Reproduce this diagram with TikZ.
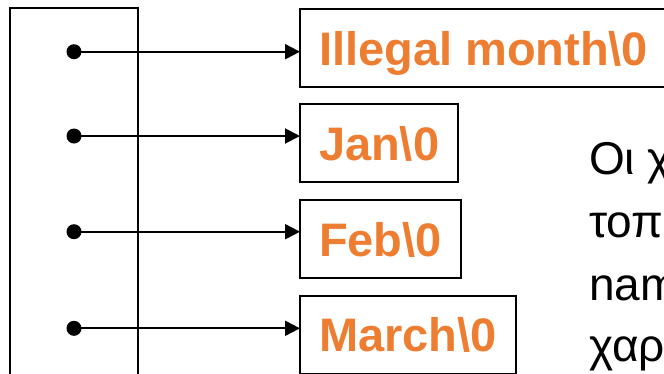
\documentclass[tikz,border=0pt]{standalone}
\usepackage{fontspec}
\setmainfont{Liberation Sans}
\usetikzlibrary{arrows.meta}
\definecolor{monthorange}{RGB}{237,125,49}
\begin{document}
\begin{tikzpicture}[x=1pt,y=-1pt,
  frame/.style={draw=black,line width=2pt},
  dot/.style={circle,fill=black,minimum size=15pt,inner sep=0pt,outer sep=0pt},
  strbox/.style={draw=black,line width=2pt,anchor=north west,minimum height=78pt,
    inner xsep=19pt,inner ysep=0pt,outer sep=0pt,text height=34pt,text depth=0pt,
    font=\fontsize{47}{56}\selectfont\bfseries,text=monthorange},
  ptr/.style={line width=2pt,-{Triangle[length=15pt,width=15pt]}},
  note/.style={anchor=base west,inner sep=0pt,font=\fontsize{46}{55}\selectfont}]
\useasboundingbox (0,0) rectangle (664,373);
\clip (0,0) rectangle (664,373);
% array of pointers
\node[frame,rectangle,anchor=north west,minimum width=127.7pt,minimum height=400pt,inner sep=0pt,outer sep=0pt] (arr) at (10,8.3) {};
% dots
\node[dot] (d1) at (74,51.7) {};
\node[dot] (d2) at (74,136) {};
\node[dot] (d3) at (74,231.7) {};
\node[dot] (d4) at (74,328.3) {};
% strings
\node[strbox] (b1) at (300,9.3) {Illegal month\textbackslash 0};
\node[strbox] (b2) at (300,104.3) {Jan\textbackslash 0};
\node[strbox] (b3) at (300,200) {Feb\textbackslash 0};
\node[strbox] (b4) at (300,295.7) {March\textbackslash 0};
% pointers
\draw[ptr] (d1.center) -- (d1 -| b1.west);
\draw[ptr] (d2.center) -- (d2 -| b2.west);
\draw[ptr] (d3.center) -- (d3 -| b3.west);
\draw[ptr] (d4.center) -- (d4 -| b4.west);
% side text (cut by the picture's edge)
\node[note] (t1) at (589,174) {Οι χ};
\node[note] (t2) at (589,237) {τοπ};
\node[note] (t3) at (589,300) {nam};
\node[note] (t4) at (589,361) {χαρ};
\end{tikzpicture}
\end{document}
